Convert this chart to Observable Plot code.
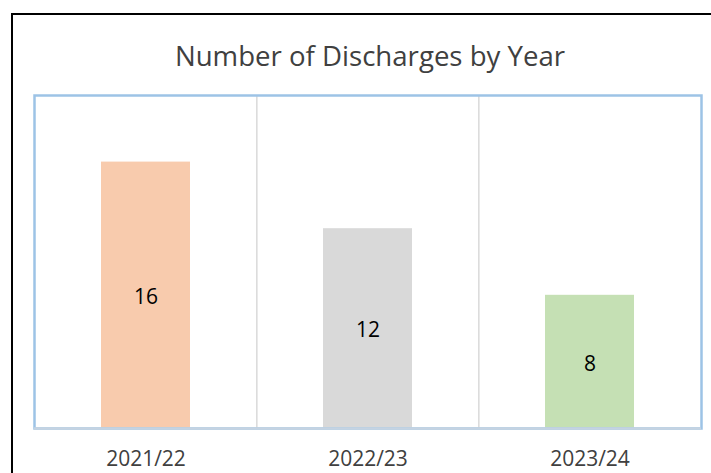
<!DOCTYPE html>
<html><head><meta charset="utf-8">
<script src="https://cdn.jsdelivr.net/npm/d3@7"></script>
<script src="https://cdn.jsdelivr.net/npm/@observablehq/plot@0.6"></script>
<style>
body{margin:0;background:#fff;font-family:"Open Sans",sans-serif;}
#wrap{position:relative;width:711px;height:473px;overflow:hidden;background:#fff;}
#border{position:absolute;left:11px;top:13px;width:800px;height:600px;border:2px solid #000;box-sizing:border-box;}
#title{position:absolute;left:0;top:42px;width:740px;text-align:center;font-size:27.6px;line-height:27px;color:#404040;white-space:nowrap;}
#chart{position:absolute;left:0;top:0;}
</style></head><body>
<div id="wrap"><div id="border"></div><div id="chart"></div><div id="title">Number of Discharges by Year</div></div>
<script>
const years = ["2021/22", "2022/23", "2023/24"];
const discharges = [16, 12, 8];
const barColors = ["#f8cbad", "#d9d9d9", "#c5e0b4"];

const data = years.map((y, i) => ({year: y, value: discharges[i]}));
const W = 711, H = 473, mL = 34, mR = 10, mT = 95, mB = 45;
const half = (W - mL - mR) / years.length / 2;

const plot = Plot.plot({
  width: W, height: H,
  marginLeft: mL, marginRight: mR, marginTop: mT, marginBottom: mB,
  style: {fontFamily: '"Open Sans", sans-serif', background: "transparent"},
  x: {domain: years, paddingInner: 0.6, paddingOuter: 0.3},
  y: {domain: [0, 20], axis: null},
  color: {domain: years, range: barColors},
  marks: [
    Plot.ruleX(years.slice(1), {x: d => d, dx: -half, stroke: "#d9d9d9", strokeWidth: 1.5}),
    Plot.barY(data, {x: "year", y: "value", fill: "year"}),
    Plot.text(data, {x: "year", y: d => d.value / 2, text: d => String(d.value), fontSize: 21, fill: "#000", dy: 2}),
    Plot.frame({stroke: "#9dc3e6", strokeWidth: 2.5}),
    Plot.ruleY([0], {stroke: "#c5d3e2", strokeWidth: 2.5}),
    Plot.axisX({tickSize: 0, tickPadding: 23, fontSize: 21, color: "#404040", label: null})
  ]
});
document.getElementById("chart").appendChild(plot);
</script>
</body></html>
